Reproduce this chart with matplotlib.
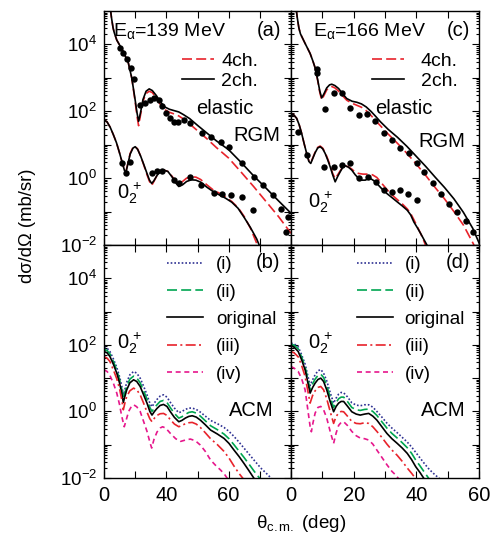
# alpha + 12C inelastic scattering: RGM (top) and ACM (bottom) cross sections
import numpy as np
import matplotlib.pyplot as plt
from matplotlib.ticker import FixedLocator, FuncFormatter, NullFormatter

plt.rcParams['font.family'] = ['Liberation Sans', 'DejaVu Sans']
plt.rcParams['mathtext.fontset'] = 'custom'
plt.rcParams['mathtext.rm'] = 'Liberation Sans'
plt.rcParams['mathtext.it'] = 'Liberation Sans:italic'
plt.rcParams['mathtext.bf'] = 'Liberation Sans:bold'
plt.rcParams['font.size'] = 12

# ---- data: angle (deg) and log10(dsigma/dOmega in mb/sr) ----
# (a) E = 139 MeV, RGM
el139_2ch_x = [2.0, 2.4, 2.9, 3.3, 4.1, 5.2, 6.2, 7.8, 8.9, 9.9, 10.6, 11.1, 11.7, 12.5, 13.5, 14.5,
               15.5, 16.8, 18.1, 19.5, 21.0, 22.5, 24.0, 25.5, 27.5, 30.0, 33.0, 36.0, 40.0, 44.0,
               48.0, 52.0, 56.0, 60.0]
el139_2ch_y = [5.1, 4.8, 4.5, 4.35, 4.13, 3.95, 3.78, 3.45, 3.0, 2.4, 1.95, 1.7, 1.95, 2.35, 2.6, 2.67,
               2.62, 2.47, 2.28, 2.13, 2.06, 2.02, 1.98, 1.9, 1.78, 1.58, 1.35, 1.12, 0.85, 0.47,
               0.07, -0.3, -0.68, -1.05]
el139_4ch_x = [2.0, 2.4, 2.9, 3.3, 4.1, 5.2, 6.2, 7.8, 8.9, 9.9, 10.6, 11.1, 11.7, 12.5, 13.5, 14.5,
               15.5, 16.8, 18.1, 19.5, 21.0, 22.5, 24.0, 25.5, 27.5, 30.0, 33.0, 36.0, 40.0, 44.0,
               48.0, 52.0, 56.0, 60.0]
el139_4ch_y = [5.1, 4.8, 4.5, 4.35, 4.13, 3.95, 3.78, 3.45, 3.0, 2.35, 1.85, 1.57, 1.88, 2.3, 2.53, 2.6,
               2.56, 2.4, 2.2, 2.05, 1.97, 1.92, 1.86, 1.77, 1.62, 1.42, 1.18, 0.92, 0.6, 0.18,
               -0.25, -0.7, -1.15, -1.65]
el139_exp_x = [5.2, 6.2, 7.3, 8.6, 9.7, 11.4, 13.2, 14.6, 16.1, 17.5, 18.6, 20.0, 21.3, 22.6, 23.7,
               25.6, 27.7, 31.5, 34.4, 37.4, 40.1, 44.4, 48.2, 50.9, 54.1, 56.8, 59.0]
el139_exp_y = [3.88, 3.75, 3.55, 3.28, 2.98, 2.19, 2.25, 2.34, 2.39, 2.34, 2.16, 1.96, 1.79, 1.69, 1.69,
               1.74, 1.66, 1.34, 1.24, 1.09, 0.94, 0.44, 0.04, -0.21, -0.51, -0.91, -1.16]

ex139_2ch_x = [0, 1, 2, 3, 4, 5, 5.8, 6.6, 7.1, 7.6, 8.4, 9.3, 10.0, 10.8, 11.8, 12.8, 13.8, 14.6,
               15.3, 16.0, 17.0, 18.0, 19.2, 20.5, 21.8, 22.9, 24.0, 25.2, 26.5, 28.0, 29.5, 31.0,
               33.0, 35.0, 37.0, 39.0, 41.0, 43.0, 45.0, 47.0, 49.0, 50.0]
ex139_2ch_y = [1.75, 1.68, 1.52, 1.3, 1.06, 0.75, 0.48, 0.22, 0.2, 0.4, 0.72, 0.9, 0.94, 0.86, 0.65,
               0.4, 0.14, -0.06, -0.16, -0.08, 0.08, 0.2, 0.24, 0.2, 0.04, -0.13, -0.25, -0.2, -0.1,
               -0.05, -0.06, -0.12, -0.27, -0.4, -0.5, -0.6, -0.72, -0.9, -1.18, -1.48, -1.82, -2.05]
ex139_4ch_x = [0, 1, 2, 3, 4, 5, 5.8, 6.6, 7.1, 7.6, 8.4, 9.3, 10.0, 10.8, 11.8, 12.8, 13.8, 14.6,
               15.3, 16.0, 17.0, 18.0, 19.2, 20.5, 21.8, 22.9, 24.0, 25.2, 26.5, 28.0, 29.5, 31.0,
               33.0, 35.0, 37.0, 39.0, 41.0, 43.0, 45.0, 47.0, 49.0, 49.6]
ex139_4ch_y = [1.75, 1.68, 1.52, 1.3, 1.06, 0.75, 0.48, 0.24, 0.22, 0.42, 0.74, 0.92, 0.95, 0.87, 0.65,
               0.38, 0.1, -0.1, -0.22, -0.1, 0.08, 0.2, 0.24, 0.2, 0.06, -0.08, -0.16, -0.1, 0.0,
               0.04, 0.03, -0.04, -0.2, -0.35, -0.45, -0.56, -0.7, -0.88, -1.15, -1.5, -1.95, -2.05]
ex139_exp_x = [5.7, 7.1, 8.4, 15.4, 17.0, 18.6, 22.4, 24.0, 27.7, 31.0, 35.3, 37.9, 40.6, 44.4,
               47.9, 58.4]
ex139_exp_y = [0.46, 0.14, 0.47, 0.14, 0.2, 0.22, -0.06, -0.14, 0.04, -0.21, -0.44, -0.48, -0.51,
               -0.56, -0.96, -1.61]

# (c) E = 166 MeV, RGM
el166_2ch_x = [1.6, 2.0, 2.5, 3.0, 4.5, 6.1, 7.0, 7.7, 8.5, 9.2, 9.8, 10.5, 11.4, 12.3, 13.0, 14.0,
               15.2, 16.5, 17.8, 19.5, 21.0, 22.5, 24.0, 25.5, 27.0, 28.5, 31.0, 34.0, 37.0, 40.0,
               43.0, 46.0, 49.0, 52.0, 55.0, 58.0, 60.3]
el166_2ch_y = [5.1, 4.8, 4.5, 4.32, 4.03, 3.73, 3.5, 3.3, 2.95, 2.6, 2.4, 2.52, 2.7, 2.79, 2.81, 2.77,
               2.68, 2.52, 2.38, 2.3, 2.27, 2.22, 2.13, 2.0, 1.85, 1.69, 1.46, 1.22, 0.95, 0.65,
               0.35, 0.03, -0.28, -0.62, -1.02, -1.5, -2.0]
el166_4ch_x = [1.6, 2.0, 2.5, 3.0, 4.5, 6.1, 7.0, 7.7, 8.5, 9.2, 9.8, 10.5, 11.4, 12.3, 13.0, 14.0,
               15.2, 16.5, 17.8, 19.5, 21.0, 22.5, 24.0, 25.5, 27.0, 28.5, 31.0, 34.0, 37.0, 40.0,
               43.0, 46.0, 49.0, 52.0, 55.0, 58.4]
el166_4ch_y = [5.1, 4.8, 4.5, 4.32, 4.03, 3.73, 3.5, 3.3, 2.93, 2.56, 2.34, 2.47, 2.64, 2.72, 2.74, 2.7,
               2.6, 2.46, 2.33, 2.24, 2.18, 2.12, 2.02, 1.88, 1.72, 1.57, 1.32, 1.04, 0.74, 0.42,
               0.08, -0.28, -0.62, -1.0, -1.4, -2.0]
el166_exp_x = [8.2, 8.4, 10.9, 13.6, 16.2, 18.9, 21.6, 24.2, 26.9, 29.6, 32.3, 34.9, 37.6, 40.1,
               42.6, 45.3, 47.8, 50.4, 53.1, 55.8, 58.2]
el166_exp_y = [3.26, 3.15, 2.07, 2.54, 2.54, 2.09, 1.89, 1.92, 1.72, 1.34, 1.14, 0.89, 0.74, 0.46,
               0.19, -0.14, -0.46, -0.76, -1.01, -1.28, -1.61]

ex166_2ch_x = [0, 0.8, 1.8, 2.6, 3.4, 4.2, 5.0, 5.7, 6.3, 7.0, 7.7, 8.5, 9.3, 10.1, 10.9, 11.7, 12.5,
               13.3, 14.1, 14.9, 15.7, 16.5, 17.3, 18.3, 19.4, 20.5, 21.6, 22.6, 23.7, 24.6, 25.5,
               26.5, 27.4, 29.0, 30.6, 32.2, 33.9, 35.5, 37.1, 38.2, 39.2, 40.3, 41.4, 42.5, 43.5]
ex166_2ch_y = [1.94, 1.9, 1.79, 1.6, 1.34, 1.03, 0.74, 0.5, 0.44, 0.6, 0.76, 0.9, 0.94, 0.88, 0.74,
               0.55, 0.34, 0.1, -0.11, 0.05, 0.19, 0.32, 0.37, 0.33, 0.24, 0.1, -0.01, -0.06, -0.06,
               -0.02, -0.02, -0.08, -0.16, -0.32, -0.46, -0.58, -0.71, -0.83, -0.96, -1.1, -1.31,
               -1.48, -1.66, -1.85, -2.02]
ex166_4ch_x = [0, 0.8, 1.8, 2.6, 3.4, 4.2, 5.0, 5.7, 6.3, 7.0, 7.7, 8.5, 9.3, 10.1, 10.9, 11.7, 12.5,
               13.3, 14.1, 14.9, 15.7, 16.5, 17.3, 18.3, 19.4, 20.5, 21.6, 23.0, 24.5, 26.0, 27.4,
               29.0, 30.6, 32.2, 33.9, 35.5, 37.1, 38.2, 39.2, 40.3, 41.4, 42.5, 43.0]
ex166_4ch_y = [1.94, 1.9, 1.79, 1.6, 1.34, 1.03, 0.74, 0.52, 0.46, 0.62, 0.78, 0.92, 0.96, 0.9, 0.77,
               0.58, 0.38, 0.14, -0.01, 0.1, 0.22, 0.33, 0.37, 0.34, 0.27, 0.18, 0.14, 0.12, 0.12,
               0.1, 0.02, -0.16, -0.34, -0.5, -0.64, -0.77, -0.92, -1.06, -1.24, -1.45, -1.66,
               -1.9, -2.02]
ex166_exp_x = [2.3, 5.0, 10.4, 13.6, 16.2, 18.9, 21.6, 24.5, 27.1, 29.6, 32.3, 34.7, 37.3, 40.1]
ex166_exp_y = [1.39, 0.69, 0.34, 0.34, 0.39, 0.44, -0.01, 0.04, -0.11, -0.36, -0.41, -0.36, -0.46,
               -0.66]

# (b) E = 139 MeV, ACM, 0_2+
acm139_x = [0, 1, 1.9, 3, 4.1, 5, 5.7, 6.2, 6.7, 7.3, 8.3, 9.5, 10.5, 11.6, 12.7, 13.8, 14.7, 15.4,
            16.2, 17.0, 18.0, 19.1, 20.2, 21.3, 22.6, 24.0, 25.0, 26.1, 27.2, 28.3, 29.6, 30.9,
            32.5, 34.2, 36.4, 38.5, 40.1, 41.7, 43.3, 44.9, 46.5, 48.2, 50.3, 52.3, 54.1]
acm139_i = [1.93, 1.9, 1.8, 1.58, 1.32, 1.04, 0.76, 0.5, 0.66, 0.88, 1.1, 1.2, 1.15, 1.0, 0.76, 0.5,
            0.25, 0.14, 0.26, 0.36, 0.46, 0.5, 0.43, 0.27, 0.1, -0.04, 0.0, 0.06, 0.1, 0.1, 0.06,
            -0.02, -0.14, -0.27, -0.37, -0.48, -0.6, -0.75, -0.92, -1.1, -1.28, -1.47, -1.7,
            -1.88, -2.05]
acm139_ii = [1.87, 1.83, 1.73, 1.5, 1.24, 0.95, 0.66, 0.38, 0.55, 0.76, 0.97, 1.06, 1.01, 0.86, 0.62,
             0.37, 0.12, 0.0, 0.11, 0.2, 0.3, 0.33, 0.27, 0.11, -0.06, -0.2, -0.16, -0.09, -0.03,
             -0.01, -0.05, -0.14, -0.28, -0.43, -0.55, -0.68, -0.82, -1.0, -1.19, -1.38, -1.58,
             -1.8, -2.05]
acm139_orig = [1.8, 1.76, 1.65, 1.42, 1.15, 0.85, 0.55, 0.27, 0.45, 0.65, 0.86, 0.95, 0.9, 0.75, 0.5,
               0.25, 0.0, -0.11, 0.0, 0.09, 0.18, 0.21, 0.15, -0.01, -0.18, -0.31, -0.27, -0.2,
               -0.15, -0.13, -0.17, -0.26, -0.4, -0.56, -0.68, -0.81, -0.96, -1.16, -1.35, -1.56,
               -1.78, -2.02]
acm139_iii = [1.65, 1.6, 1.5, 1.25, 0.98, 0.68, 0.35, 0.05, 0.25, 0.45, 0.62, 0.7, 0.65, 0.5, 0.25,
              -0.02, -0.22, -0.31, -0.2, -0.12, -0.07, -0.06, -0.12, -0.25, -0.38, -0.46, -0.42,
              -0.37, -0.34, -0.33, -0.38, -0.48, -0.64, -0.82, -1.0, -1.2, -1.4, -1.64, -1.86,
              -2.05]
acm139_iv_x = [0, 1, 1.9, 3, 4.1, 5, 5.7, 6.5, 7.0, 7.9, 8.8, 9.5, 10.5, 11.6, 12.7, 13.8, 14.8,
               15.3, 16.0, 17.0, 18.0, 18.8, 19.8, 21.3, 23.0, 24.6, 26.1, 27.7, 29.3, 30.9, 32.5,
               34.2, 35.8, 37.4, 38.6, 39.7]
acm139_iv = [1.25, 1.2, 1.08, 0.85, 0.55, 0.2, -0.15, -0.46, -0.3, 0.0, 0.15, 0.2, 0.14, 0.0, -0.3,
             -0.6, -0.95, -1.1, -0.85, -0.62, -0.5, -0.46, -0.5, -0.66, -0.82, -0.9, -0.86, -0.83,
             -0.88, -1.01, -1.2, -1.46, -1.62, -1.76, -1.88, -2.03]

# (d) E = 166 MeV, ACM, 0_2+
acm166_x = [0, 1, 2.3, 3.4, 4.5, 5.3, 6.1, 6.9, 7.7, 8.6, 9.5, 10.4, 11.4, 12.5, 13.6, 14.4, 15.2,
            16.0, 16.8, 18.0, 19.4, 20.8, 22.1, 23.5, 24.8, 26.1, 27.4, 29.0, 30.6, 32.2, 33.9,
            35.5, 37.1, 38.5, 39.8, 41.2, 42.6, 44.1, 45.9, 47.8]
acm166_i = [2.05, 2.03, 1.94, 1.7, 1.42, 1.1, 0.78, 0.95, 1.1, 1.22, 1.26, 1.15, 0.92, 0.57, 0.25,
            0.4, 0.52, 0.57, 0.56, 0.44, 0.26, 0.19, 0.17, 0.2, 0.2, 0.13, 0.0, -0.17, -0.35, -0.5,
            -0.64, -0.78, -0.92, -1.07, -1.23, -1.4, -1.57, -1.74, -1.9, -2.05]
acm166_ii = [2.02, 1.99, 1.88, 1.63, 1.34, 1.0, 0.66, 0.83, 0.97, 1.08, 1.12, 1.02, 0.78, 0.43, 0.12,
             0.27, 0.38, 0.43, 0.43, 0.3, 0.12, 0.05, 0.03, 0.06, 0.07, 0.0, -0.12, -0.31, -0.5,
             -0.66, -0.8, -0.94, -1.09, -1.26, -1.46, -1.64, -1.83, -2.03]
acm166_orig = [1.97, 1.93, 1.8, 1.55, 1.25, 0.9, 0.55, 0.72, 0.85, 0.96, 1.0, 0.9, 0.65, 0.3, -0.01,
               0.15, 0.25, 0.3, 0.3, 0.16, -0.01, -0.08, -0.11, -0.08, -0.06, -0.14, -0.26, -0.46,
               -0.66, -0.82, -0.96, -1.1, -1.26, -1.45, -1.66, -1.84, -2.04]
acm166_iii = [1.8, 1.76, 1.64, 1.38, 1.05, 0.65, 0.25, 0.48, 0.62, 0.72, 0.75, 0.65, 0.38, 0.0, -0.36,
              -0.15, -0.05, 0.0, -0.01, -0.14, -0.3, -0.36, -0.37, -0.34, -0.36, -0.46, -0.6,
              -0.78, -0.98, -1.16, -1.32, -1.5, -1.7, -1.86, -2.02]
acm166_iv_x = [0, 1, 2.3, 3.4, 4.5, 5.3, 6.1, 6.5, 7.0, 7.7, 8.6, 9.5, 10.4, 11.4, 12.5, 13.6, 14.4,
               15.2, 16.0, 16.8, 18.0, 19.4, 20.8, 22.1, 23.5, 24.8, 26.1, 27.4, 29.0, 30.6, 32.2,
               33.5, 34.4]
acm166_iv = [1.35, 1.3, 1.2, 0.98, 0.65, 0.1, -0.45, -0.61, -0.35, -0.05, 0.12, 0.15, 0.05, -0.2,
             -0.6, -0.96, -0.65, -0.42, -0.33, -0.31, -0.42, -0.6, -0.73, -0.8, -0.82, -0.86, -0.98,
             -1.16, -1.38, -1.6, -1.8, -1.92, -2.03]

RED = '#e8232b'
BLUE = '#2e3192'
GREEN = '#00a651'
MAG = '#e6178c'
lw = 1.2

fig = plt.figure(figsize=(4.95, 5.38), dpi=100)
W, H = 495, 538
def box(x0, x1, y0, y1):
    return [x0/W, 1 - y1/H, (x1 - x0)/W, (y1 - y0)/H]

axA = fig.add_axes(box(104, 291, 11, 245))
axC = fig.add_axes(box(291, 479, 11, 245))
axB = fig.add_axes(box(104, 291, 245, 478))
axD = fig.add_axes(box(291, 479, 245, 478))

def lg(v):
    return 10.0**np.asarray(v)

def yfmt(v, p):
    k = int(round(np.log10(v)))
    if k % 2 == 0 and k < 5:
        return r'$\mathregular{10^{%d}}$' % k
    return ''

for ax in (axA, axB, axC, axD):
    ax.set_yscale('log')
    ax.set_ylim(1e-2, 1e5)
    ax.set_xlim(0, 60)
    ax.yaxis.set_major_locator(FixedLocator([10.0**k for k in range(-2, 6)]))
    ax.yaxis.set_minor_locator(FixedLocator([m*10.0**k for k in range(-2, 5) for m in range(2, 10)]))
    ax.yaxis.set_minor_formatter(NullFormatter())
    ax.set_xticks(range(0, 61, 10))
    ax.tick_params(which='both', direction='in', top=True, right=True, width=0.8)
    ax.tick_params(which='major', length=5, pad=6)
    ax.tick_params(axis='y', which='major', labelsize=13.5, pad=5)
    ax.tick_params(axis='x', which='major', labelsize=14.5)
    ax.tick_params(which='minor', length=2.5)
    for s in ax.spines.values():
        s.set_linewidth(1.0)

for ax in (axA, axB):
    ax.yaxis.set_major_formatter(FuncFormatter(yfmt))
for ax in (axC, axD):
    ax.yaxis.set_major_formatter(NullFormatter())
for ax in (axA, axC):
    ax.xaxis.set_major_formatter(NullFormatter())
axB.set_xticklabels(['0', '', '40', '', '60', '', ''])
axD.set_xticklabels(['0', '', '20', '', '40', '', '60'])

# RGM panels
for ax, el2, el4, elx, ex2, ex4, exx in (
        (axA, (el139_2ch_x, el139_2ch_y), (el139_4ch_x, el139_4ch_y), (el139_exp_x, el139_exp_y),
         (ex139_2ch_x, ex139_2ch_y), (ex139_4ch_x, ex139_4ch_y), (ex139_exp_x, ex139_exp_y)),
        (axC, (el166_2ch_x, el166_2ch_y), (el166_4ch_x, el166_4ch_y), (el166_exp_x, el166_exp_y),
         (ex166_2ch_x, ex166_2ch_y), (ex166_4ch_x, ex166_4ch_y), (ex166_exp_x, ex166_exp_y))):
    ax.plot(el4[0], lg(el4[1]), color=RED, lw=lw, dashes=(6, 2.5), label='4ch.')
    ax.plot(el2[0], lg(el2[1]), color='k', lw=lw, label='2ch.')
    ax.plot(ex4[0], lg(ex4[1]), color=RED, lw=lw, dashes=(6, 2.5))
    ax.plot(ex2[0], lg(ex2[1]), color='k', lw=lw)
    ax.plot(elx[0], lg(elx[1]), 'o', color='k', ms=4.6, mec='none')
    ax.plot(exx[0], lg(exx[1]), 'o', color='k', ms=4.6, mec='none')

axA.legend(loc='upper left', bbox_to_anchor=(0.417, 0.825), frameon=False, borderpad=0,
           borderaxespad=0, handlelength=1.65, handletextpad=0.37, labelspacing=0.12, fontsize=14)
axC.legend(loc='upper left', bbox_to_anchor=(0.431, 0.825), frameon=False, borderpad=0,
           borderaxespad=0, handlelength=1.65, handletextpad=0.85, labelspacing=0.12, fontsize=14)

# ACM panels
for ax, x, xiv, ci, cii, co, ciii, civ in (
        (axB, acm139_x, acm139_iv_x, acm139_i, acm139_ii, acm139_orig, acm139_iii, acm139_iv),
        (axD, acm166_x, acm166_iv_x, acm166_i, acm166_ii, acm166_orig, acm166_iii, acm166_iv)):
    ax.plot(x[:len(ci)], lg(ci), color=BLUE, lw=lw, dashes=(1, 1.2), label='(i)')
    ax.plot(x[:len(cii)], lg(cii), color=GREEN, lw=lw, dashes=(6, 2.5), label='(ii)')
    ax.plot(x[:len(co)], lg(co), color='k', lw=lw, label='original')
    ax.plot(x[:len(ciii)], lg(ciii), color=RED, lw=lw, dashes=(6, 2, 1.2, 2), label='(iii)')
    ax.plot(xiv, lg(civ), color=MAG, lw=lw, dashes=(3, 2.2), label='(iv)')

axB.legend(loc='upper left', bbox_to_anchor=(0.335, 0.953), frameon=False, borderpad=0,
           borderaxespad=0, handlelength=1.96, handletextpad=0.68, labelspacing=0.55, fontsize=13.5)
axD.legend(loc='upper left', bbox_to_anchor=(0.349, 0.953), frameon=False, borderpad=0,
           borderaxespad=0, handlelength=1.96, handletextpad=0.59, labelspacing=0.55, fontsize=13.5)

# panel texts
FS = 14.5
axA.text(0.048, 0.915, r'E$_{\mathrm{α}}$=139 MeV', transform=axA.transAxes, va='center', fontsize=14)
axA.text(0.95, 0.915, '(a)', transform=axA.transAxes, va='center', ha='right', fontsize=14.5)
axC.text(0.117, 0.915, r'E$_{\mathrm{α}}$=166 MeV', transform=axC.transAxes, va='center', fontsize=14)
axC.text(0.952, 0.915, '(c)', transform=axC.transAxes, va='center', ha='right', fontsize=14.5)
axB.text(0.941, 0.923, '(b)', transform=axB.transAxes, va='center', ha='right', fontsize=14.5)
axD.text(0.952, 0.923, '(d)', transform=axD.transAxes, va='center', ha='right', fontsize=14.5)

axA.text(0.797, 0.585, 'elastic', transform=axA.transAxes, va='center', ha='right', fontsize=FS)
axA.text(0.941, 0.47, 'RGM', transform=axA.transAxes, va='center', ha='right', fontsize=FS)
axA.text(0.068, 0.222, r'$\mathregular{0_2^{\,+}}$', transform=axA.transAxes, va='center', fontsize=FS)
axC.text(0.75, 0.585, 'elastic', transform=axC.transAxes, va='center', ha='right', fontsize=FS)
axC.text(0.926, 0.441, 'RGM', transform=axC.transAxes, va='center', ha='right', fontsize=FS)
axC.text(0.09, 0.185, r'$\mathregular{0_2^{\,+}}$', transform=axC.transAxes, va='center', fontsize=FS)
axB.text(0.068, 0.58, r'$\mathregular{0_2^{\,+}}$', transform=axB.transAxes, va='center', fontsize=FS)
axB.text(0.906, 0.29, 'ACM', transform=axB.transAxes, va='center', ha='right', fontsize=FS)
axD.text(0.09, 0.58, r'$\mathregular{0_2^{\,+}}$', transform=axD.transAxes, va='center', fontsize=FS)
axD.text(0.926, 0.29, 'ACM', transform=axD.transAxes, va='center', ha='right', fontsize=FS)

fig.text(27/W, 1 - 226/H, 'dσ/dΩ (mb/sr)', rotation=90, ha='center', va='center', fontsize=13.3)
fig.text(301/W, 1 - 524/H, r'θ$_{\mathrm{c{.}m{.}}}$ (deg)', ha='center', va='center', fontsize=13.5)

fig.savefig('out.png', dpi=100)
